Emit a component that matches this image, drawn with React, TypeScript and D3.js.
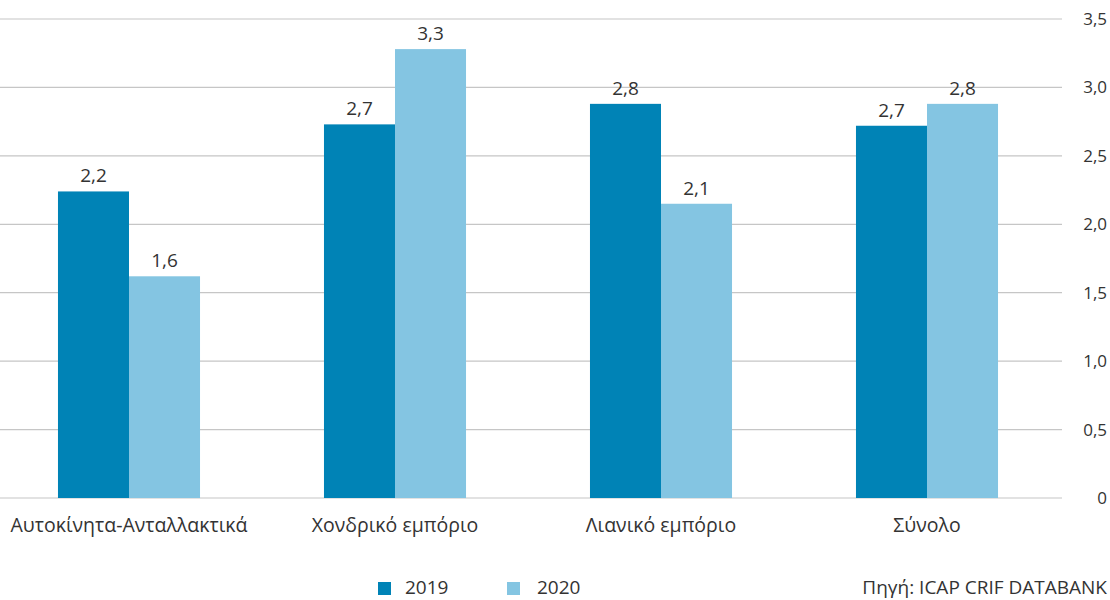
import { useRef, useEffect } from 'react';
import * as d3 from 'd3';

const categories = ['Αυτοκίνητα-Ανταλλακτικά', 'Χονδρικό εμπόριο', 'Λιανικό εμπόριο', 'Σύνολο'];
const series = ['2019', '2020'];
const values2019 = [2.24, 2.73, 2.88, 2.72];
const values2020 = [1.62, 3.28, 2.15, 2.88];
const labels2019 = ['2,2', '2,7', '2,8', '2,7'];
const labels2020 = ['1,6', '3,3', '2,1', '2,8'];
const yTicks = [0, 0.5, 1, 1.5, 2, 2.5, 3, 3.5];
const colors = ['#0083b6', '#84c5e2'];

const W = 1110;
const H = 600;
const FONT = '"Open Sans", Lato, sans-serif';

export default function App() {
  const svgRef = useRef<SVGSVGElement>(null);

  useEffect(() => {
    const svg = d3.select(svgRef.current);
    svg.selectAll('*').remove();

    const x0 = d3.scaleBand<string>().domain(categories).range([-4, 1060]).paddingInner(0.466).paddingOuter(0.233);
    const x1 = d3.scaleBand<string>().domain(series).range([0, x0.bandwidth()]);
    const y = d3.scaleLinear().domain([0, 3.5]).range([498, 19]);

    // gridlines + right axis labels
    yTicks.forEach(t => {
      svg.append('line')
        .attr('x1', 0).attr('x2', 1062)
        .attr('y1', y(t)).attr('y2', y(t))
        .attr('stroke', '#c6c6c6').attr('stroke-width', 1.2);
      svg.append('text')
        .attr('x', 1107).attr('y', y(t) + 6)
        .attr('text-anchor', 'end')
        .attr('font-family', FONT).attr('font-size', 17).attr('fill', '#333')
        .text(t === 0 ? '0' : d3.format('.1f')(t).replace('.', ','));
    });

    const data = [values2019, values2020];
    const labels = [labels2019, labels2020];
    series.forEach((s, si) => {
      const g = svg.append('g');
      g.selectAll('rect')
        .data(categories)
        .join('rect')
        .attr('x', c => (x0(c) ?? 0) + (x1(s) ?? 0))
        .attr('width', x1.bandwidth())
        .attr('y', (_, i) => y(data[si][i]))
        .attr('height', (_, i) => y(0) - y(data[si][i]))
        .attr('fill', colors[si]);
      g.selectAll('text')
        .data(categories)
        .join('text')
        .attr('x', c => (x0(c) ?? 0) + (x1(s) ?? 0) + x1.bandwidth() / 2)
        .attr('y', (_, i) => y(data[si][i]) - 9)
        .attr('text-anchor', 'middle')
        .attr('font-family', FONT).attr('font-size', 19).attr('fill', '#333')
        .text((_, i) => labels[si][i]);
    });

    // category labels
    svg.selectAll('.cat')
      .data(categories)
      .join('text')
      .attr('class', 'cat')
      .attr('x', c => (x0(c) ?? 0) + x0.bandwidth() / 2)
      .attr('y', 532)
      .attr('text-anchor', 'middle')
      .attr('font-family', FONT).attr('font-size', 19.5).attr('fill', '#333')
      .text(c => c);

    // legend
    const legX = [378, 507];
    series.forEach((s, i) => {
      svg.append('rect')
        .attr('x', legX[i]).attr('y', 582)
        .attr('width', 13).attr('height', 13)
        .attr('fill', colors[i]);
      svg.append('text')
        .attr('x', legX[i] + 27 + (i === 1 ? 3 : 0)).attr('y', 594)
        .attr('font-family', FONT).attr('font-size', 19).attr('fill', '#333')
        .text(s);
    });

    svg.append('text')
      .attr('x', 1107).attr('y', 594)
      .attr('text-anchor', 'end')
      .attr('font-family', FONT).attr('font-size', 19).attr('fill', '#333')
      .text('Πηγή: ICAP CRIF DATABANK');
  }, []);

  return (
    <svg ref={svgRef} width={W} height={H}
      style={{ position: 'absolute', left: 0, top: 0, background: '#fff', display: 'block' }} />
  );
}
